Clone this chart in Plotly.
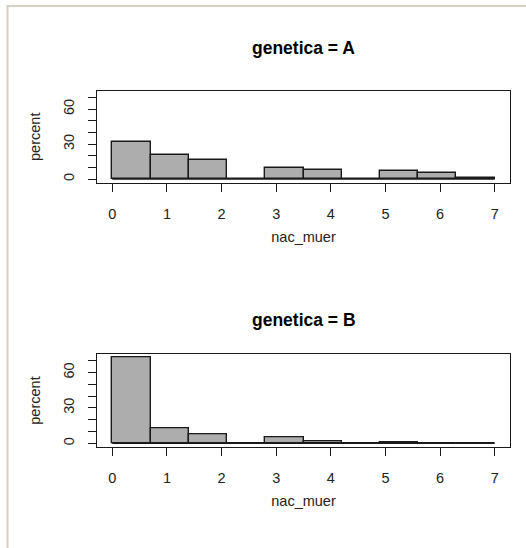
import plotly.graph_objects as go

# ---- data ----
bin_edges = [0.0, 0.7, 1.4, 2.1, 2.8, 3.5, 4.2, 4.9, 5.6, 6.3, 7.0]
pct_A = [31.5, 21.0, 16.8, 0.0, 9.5, 8.0, 0.0, 7.0, 5.0, 1.2]
pct_B = [72.6, 12.4, 7.3, 0.0, 4.8, 1.7, 0.0, 0.8, 0.0, 0.0]
panel_titles = ["genetica = A", "genetica = B"]
x_ticks = [0, 1, 2, 3, 4, 5, 6, 7]
y_ticks = [0, 10, 20, 30, 40, 50, 60, 70]
y_ticktext = ["0", "", "", "30", "", "", "60", ""]
x_label = "nac_muer"
y_label = "percent"

W, H = 526, 548
FONT = "Liberation Sans, Arial, sans-serif"
BAR_FILL = "#adadad"
INK = "#1a1a1a"

centers = [(bin_edges[i] + bin_edges[i + 1]) / 2 for i in range(len(bin_edges) - 1)]
widths = [bin_edges[i + 1] - bin_edges[i] for i in range(len(bin_edges) - 1)]

fig = go.Figure()

x_dom = [97 / W, 510 / W]
y_doms = [[1 - 182.5 / H, 1 - 91 / H], [1 - 446.7 / H, 1 - 354.3 / H]]
title_y = [1 - 48 / H, 1 - 320 / H]

for k, vals in enumerate([pct_A, pct_B]):
    xa = "x" if k == 0 else "x2"
    ya = "y" if k == 0 else "y2"
    fig.add_trace(go.Bar(
        x=centers, y=vals, width=widths,
        marker=dict(color=BAR_FILL, line=dict(color=INK, width=1.4)),
        xaxis=xa, yaxis=ya, showlegend=False, hoverinfo="x+y",
    ))
    # baseline of histogram (zero-height bins show as a line)
    fig.add_shape(type="line", xref=xa, yref=ya,
                  x0=bin_edges[0], x1=bin_edges[-1], y0=0, y1=0,
                  line=dict(color=INK, width=1.4), layer="above")
    fig.add_annotation(text="<b>%s</b>" % panel_titles[k], xref="paper", yref="paper",
                       x=(x_dom[0] + x_dom[1]) / 2, y=title_y[k],
                       xanchor="center", yanchor="middle", showarrow=False,
                       font=dict(family=FONT, size=17.5, color="#000000"))

axis_common = dict(showgrid=False, zeroline=False, showline=True, mirror=True,
                   linecolor=INK, linewidth=1.4, ticks="outside", ticklen=8,
                   tickwidth=1.4, tickcolor=INK,
                   tickfont=dict(family=FONT, size=14.5, color="#222222"))

layout = dict(
    width=W, height=H, margin=dict(l=0, r=0, t=0, b=0),
    paper_bgcolor="white", plot_bgcolor="white",
    bargap=0, font=dict(family=FONT, color="#222222"),
    showlegend=False,
)
for k in range(2):
    xs = "xaxis" if k == 0 else "xaxis2"
    ys = "yaxis" if k == 0 else "yaxis2"
    layout[xs] = dict(axis_common, domain=x_dom, range=[-0.28, 7.28],
                      tickvals=x_ticks, anchor="y" if k == 0 else "y2",
                      ticklabelstandoff=10,
                      title=dict(text=x_label, font=dict(family=FONT, size=14.5), standoff=10))
    layout[ys] = dict(axis_common, domain=y_doms[k], range=[-2.9, 75.5],
                      tickvals=y_ticks, ticktext=y_ticktext, tickangle=-90,
                      anchor="x" if k == 0 else "x2",
                      ticklabelstandoff=8,
                      title=dict(text=y_label, font=dict(family=FONT, size=14.5), standoff=16))
fig.update_layout(**layout)

# screenshot frame lines (top and left)
fig.add_shape(type="line", xref="paper", yref="paper", x0=7 / W, x1=1, y0=1 - 6 / H, y1=1 - 6 / H,
              line=dict(color="#d8cec2", width=2))
fig.add_shape(type="line", xref="paper", yref="paper", x0=7.5 / W, x1=7.5 / W, y0=0, y1=1 - 5 / H,
              line=dict(color="#d8cec2", width=2))

fig.write_html("out.html", config={"displayModeBar": False},
               post_script="document.body.style.margin='0';document.body.style.padding='0';")
